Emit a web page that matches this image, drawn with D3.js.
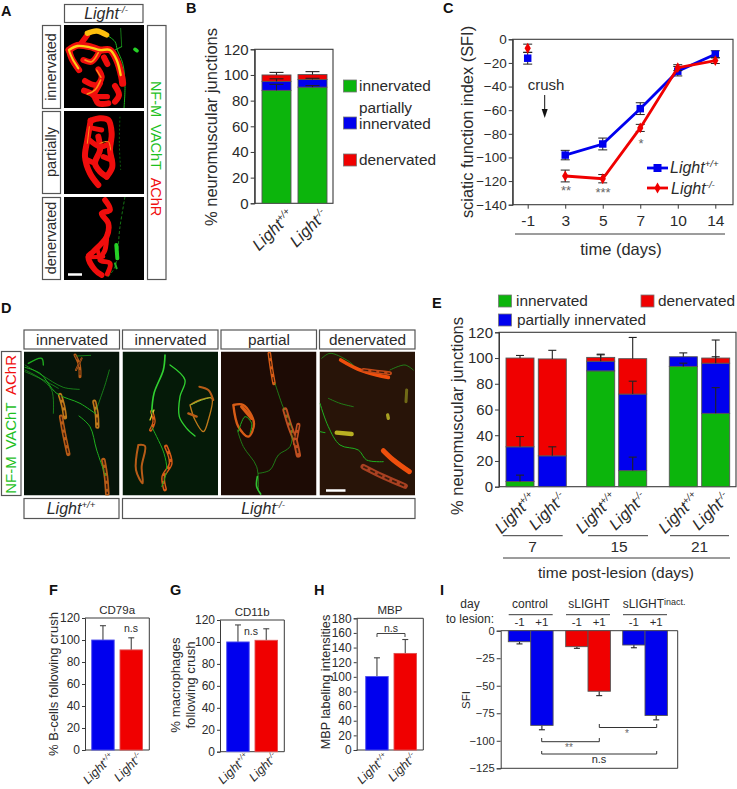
<!DOCTYPE html>
<html><head><meta charset="utf-8">
<script src="https://cdn.jsdelivr.net/npm/d3@7"></script>
<style>html,body{margin:0;padding:0;background:#fff}svg{display:block;font-family:"Liberation Sans",Arial,sans-serif}</style>
</head><body><div id="c"></div>
<script>
// ---------- data ----------
const genotypes = ["+/+","-/-"];
const bInnervated = [88,90.5];
const bPartial = [7,6];
const bDenervated = [5,3.8];
const bErrInnervated = [92.7,91.7];
const bErrPartial = [97,97.4];
const bErrDenervated = [102,102.6];

const days = ["-1","3","5","7","10","14"];
const sfiWild = [-16,-98,-88.6,-58.7,-27,-12.7];
const sfiWildErr = [5,4,5,5,4,3];
const sfiKnock = [-7.6,-115.7,-118,-75,-24,-18];
const sfiKnockErr = [3.5,5,3.5,3,2.5,2.5];

const eGroups = ["7","15","21"];
const eBars = ["+/+","-/-","+/+","-/-","+/+","-/-"];
const eInnervated = [4,0,90,12.5,93.5,57];
const ePartial = [27,24,7.5,59.5,7.5,39];
const eDenervated = [69,75.3,3,27.5,0,4];
const eErrInnervated = [9,null,null,23,96,77];
const eErrPartial = [39,31,102.5,82,104,101];
const eErrDenervated = [102,106,103,116,null,114];

const fValues = [100,91]; const fErr = [113,102];
const gValues = [100,101.5]; const gErr = [115.5,112];
const hValues = [100.5,132]; const hErr = [126,151];
const fTicks = [0,20,40,60,80,100,120];
const hTicks = [0,20,40,60,80,100,120,140,160,180];

const iTreatments = ["control","sLIGHT","sLIGHT"];
const iDays = ["-1","+1","-1","+1","-1","+1"];
const iValues = [-10,-86,-14.5,-55,-13,-77];
const iErr = [-12,-90,-16,-59,-15.5,-81];
const iTicks = [0,-25,-50,-75,-100,-125];

// micrograph sketches (traced in 3x crop coordinates)
const R="#f01008", Y="#ffd018", O="#ff9018", G="#1fb01f";
const aTraces = [
 {c:G,w:3,p:[[320,105],[345,125],[352,150],[368,190],[375,250],[372,325]]},
 {c:G,w:3,p:[[345,150],[365,140]]},
 {c:G,w:2,p:[[362,85],[365,140]]},
 {c:"#25d025",w:11,p:[[405,148],[411,152]]},
 {c:R,w:21,p:[[207,150],[232,136],[270,140],[300,150],[330,150],[350,180],[365,230],[368,250]]},
 {c:R,w:19,p:[[207,150],[215,175],[237,210]]},
 {c:R,w:17,p:[[240,135],[262,105]]},
 {c:R,w:18,p:[[250,180],[275,185],[298,155]]},
 {c:R,w:18,p:[[312,172],[322,192]]},
 {c:R,w:18,p:[[295,208],[305,232],[290,255],[255,243]]},
 {c:R,w:18,p:[[252,272],[280,285],[295,310],[325,310]]},
 {c:R,w:18,p:[[280,285],[300,250]]},
 {c:R,w:18,p:[[345,258],[357,285],[345,305]]},
 {c:R,w:16,p:[[290,290],[322,290]]},
 {c:"#ffc010",w:16,p:[[262,100],[290,93],[320,105]]},
 {c:Y,w:7,p:[[207,150],[232,138],[270,142],[300,150],[330,150],[350,180],[362,225]]},
 {c:Y,w:6,p:[[208,155],[218,178],[235,205]]},
 {c:O,w:5,p:[[255,180],[275,185],[295,158]]},
 {c:O,w:5,p:[[262,282],[285,270],[302,240]]},
 {c:O,w:4,p:[[290,210],[303,232]]},
 {c:"#158a15",w:2,p:[[360,350],[358,430],[362,510]],d:"2 2"},
 {c:R,w:18,p:[[272,362],[300,355],[325,360],[335,400],[330,450],[337,500],[320,530]]},
 {c:R,w:18,p:[[272,362],[262,420],[255,470],[270,520],[295,555]]},
 {c:R,w:18,p:[[295,410],[300,450],[285,490],[300,515],[320,530]]},
 {c:R,w:16,p:[[268,420],[300,440],[330,430]]},
 {c:R,w:16,p:[[285,490],[262,480]]},
 {c:R,w:16,p:[[310,470],[335,480]]},
 {c:R,w:15,p:[[280,385],[305,390]]},
 {c:O,w:3,p:[[300,430],[325,425],[332,450]]},
 {c:O,w:3,p:[[268,380],[262,430]]},
 {c:R,w:17,p:[[315,600],[330,630],[305,640],[325,670],[320,710],[280,755],[265,770],[285,810],[305,825]]},
 {c:R,w:15,p:[[320,710],[315,750],[300,780],[330,790],[322,822]]},
 {c:R,w:12,p:[[270,772],[310,770]]},
 {c:R,w:12,p:[[292,745],[300,780]]},
 {c:G,w:2,p:[[375,590],[360,680],[345,800],[320,835]],d:"3 2"},
 {c:"#25d025",w:12,p:[[349,735],[352,775]]},
 {c:"#25b025",w:6,p:[[345,790],[350,805]]}
];
const NM1="#b85c18", NM2="#c07a1a", NM3="#d85c16", NM4="#ee5010";
const dTraces1 = [
 {c:NM1,w:9,p:[[225,195],[238,225],[240,260]],s:1},
 {c:NM1,w:6,p:[[245,205],[228,240]],s:1},
 {c:NM2,w:13,p:[[180,315],[190,350],[195,382]],s:1},
 {c:NM1,w:13,p:[[183,380],[192,430],[205,492]],s:1},
 {c:NM2,w:13,p:[[283,335],[290,370],[292,410]],s:1},
 {c:NM1,w:14,p:[[310,510],[318,560],[322,612]],s:1},
 {c:G,w:3,p:[[75,232],[120,250],[170,310],[240,340],[285,370]]},
 {c:G,w:2,p:[[75,240],[120,265],[155,300],[160,370]]},
 {c:G,w:2,p:[[75,225],[125,255],[190,292],[238,298]]},
 {c:G,w:2,p:[[75,245],[130,270],[175,295]]},
 {c:G,w:4,p:[[85,220],[125,205],[130,225]]},
 {c:G,w:2,p:[[285,370],[315,285],[328,240]]},
 {c:G,w:3,p:[[237,378],[270,410],[290,480],[318,560]]},
 {c:G,w:2,p:[[230,198],[272,196]]}
];
const dTraces2 = [
 {c:NM3,w:10,p:[[455,365],[462,395],[452,420]],s:1},
 {c:NM1,w:6,p:[[415,465],[435,468],[425,530],[428,580],[408,540],[415,465]]},
 {c:NM3,w:12,p:[[498,470],[512,520],[490,560],[495,598]],s:1},
 {c:NM2,w:4,p:[[570,345],[600,330],[635,325],[625,390],[610,425],[585,390],[570,345]]},
 {c:NM1,w:6,p:[[598,290],[625,300],[640,330]]},
 {c:NM1,w:7,p:[[565,370],[590,380]]},
 {c:"#30d030",w:5,p:[[495,195],[490,240],[462,310],[455,370]]},
 {c:"#30d030",w:4,p:[[510,225],[555,270],[540,320],[538,380],[560,415],[585,438]]},
 {c:G,w:3,p:[[455,410],[470,440],[492,490],[500,540],[485,590]]},
 {c:"#d8d030",w:4,p:[[450,390],[462,360]]},
 {c:"#98c030",w:3,p:[[572,345],[600,332],[632,322]]}
];
const dTraces3 = [
 {c:NM3,w:11,p:[[808,190],[815,240],[822,280]],s:1},
 {c:NM3,w:7,p:[[700,345],[730,345],[762,400],[745,440],[715,410],[700,345]]},
 {c:NM3,w:10,p:[[725,350],[755,385]]},
 {c:"#c05020",w:16,p:[[855,360],[870,410],[885,450],[895,495]],s:1},
 {c:"#c05020",w:13,p:[[895,405],[885,460]],s:1},
 {c:G,w:2,p:[[825,280],[845,340],[875,420],[870,470],[835,495],[810,540],[775,550]]},
 {c:G,w:2,p:[[712,420],[730,470],[770,530],[775,600]]},
 {c:"#30c030",w:5,p:[[772,560],[770,590],[782,612]]},
 {c:G,w:3,p:[[715,425],[735,380],[755,400],[750,430]]}
];
const dTraces4 = [
 {c:NM4,w:11,p:[[1022,210],[1075,238],[1130,255],[1165,262]]},
 {c:"#c04818",w:12,p:[[1090,240],[1130,245],[1170,250]],s:1},
 {c:NM4,w:15,p:[[1150,482],[1180,510],[1228,545]]},
 {c:"#a84020",w:17,p:[[1090,530],[1150,560],[1215,588]],s:1},
 {c:"#b8b020",w:13,p:[[1010,428],[1055,432]]},
 {c:"#a8a020",w:10,p:[[1163,375],[1165,385]]},
 {c:"#706a18",w:9,p:[[1220,300],[1218,335]]},
 {c:G,w:2,p:[[965,205],[990,190],[1040,210],[1060,225]]},
 {c:G,w:2,p:[[1170,240],[1215,225],[1240,240]]},
 {c:G,w:3,p:[[960,340],[985,410],[1020,465],[1075,480],[1100,510],[1150,515]]},
 {c:G,w:2,p:[[985,325],[1020,340],[1060,350]]},
 {c:G,w:3,p:[[960,425],[975,428]]}
];

// ---------- drawing helpers ----------
const GREEN="#0cb50c", BLUE="#0000ee", RED="#f00000", INK="#3a3a3a", TXT="#2b2b2b", FRAME="#555";
const svg = d3.select("#c").append("svg").attr("width",737).attr("height",789);
const defs = svg.append("defs");
defs.append("filter").attr("id","soft").append("feGaussianBlur").attr("stdDeviation",0.5);
function text(x,y,s,size,opt={}){
  const t = svg.append("text").attr("x",x).attr("y",y).text(s).attr("font-size",size)
    .attr("fill",opt.fill||TXT).attr("text-anchor",opt.anchor||"middle");
  if(opt.bold) t.attr("font-weight","bold");
  if(opt.italic) t.attr("font-style","italic");
  return t;
}
function vtext(x,y,s,size,fill,angle){
  return svg.append("text").attr("transform",`translate(${x},${y}) rotate(${angle||-90})`).text(s)
    .attr("font-size",size).attr("fill",fill||TXT).attr("text-anchor","middle");
}
function light(x,y,sup,size,angle,anchor,ratio){
  const t = svg.append("text").attr("transform",`translate(${x},${y}) rotate(${angle})`)
    .attr("text-anchor",anchor||"end").attr("fill",TXT).attr("font-size",size).attr("font-style","italic");
  t.append("tspan").text("Light");
  t.append("tspan").text(sup).attr("font-size",size*(ratio||0.6)).attr("dy",-size*0.36);
  return t;
}
function box(x,y,w,h){
  svg.append("rect").attr("x",x).attr("y",y).attr("width",w).attr("height",h)
    .attr("fill","#fff").attr("stroke",FRAME).attr("stroke-width",1.2);
}
function rule(x1,x2,y,c){
  svg.append("line").attr("x1",x1).attr("x2",x2).attr("y1",y).attr("y2",y).attr("stroke",c||INK).attr("stroke-width",1);
}
function frame(x0,x1,y0,y1){
  svg.append("rect").attr("x",x0).attr("y",y0).attr("width",x1-x0).attr("height",y1-y0)
    .attr("fill","none").attr("stroke",INK).attr("stroke-width",1.1);
}
function yAxis(x,scale,ticks,size,fs){
  const g = svg.append("g").attr("transform",`translate(${x},0)`)
    .call(d3.axisLeft(scale).tickValues(ticks).tickSize(size).tickPadding(2).tickFormat(d3.format("d")));
  g.select(".domain").attr("stroke",INK);
  g.selectAll("line").attr("stroke",INK);
  g.selectAll("text").attr("font-size",fs).attr("fill",TXT).attr("font-family","'Liberation Sans',Arial,sans-serif");
  return g;
}
function errBar(x,yA,yB,cap,w){
  const g = svg.append("g").attr("stroke",w||"#222").attr("stroke-width",1.1);
  g.append("line").attr("x1",x).attr("x2",x).attr("y1",yA).attr("y2",yB);
  g.append("line").attr("x1",x-cap).attr("x2",x+cap).attr("y1",yB).attr("y2",yB);
}
function bar(x,w,yA,yB,fill,stroke){
  svg.append("rect").attr("x",x).attr("width",w).attr("y",Math.min(yA,yB)).attr("height",Math.abs(yB-yA))
    .attr("fill",fill).attr("stroke",stroke||"#555").attr("stroke-width",0.9);
}
function square(x,y,fill){
  svg.append("rect").attr("x",x).attr("y",y).attr("width",13).attr("height",12).attr("fill",fill).attr("stroke","#777").attr("stroke-width",0.8);
}
const zLine = d3.line().curve(d3.curveCatmullRom.alpha(0.5));
let clipN=0;
function micro(x,y,w,h,bg,traces,ox,oy){
  const id="clip"+(clipN++);
  defs.append("clipPath").attr("id",id).append("rect").attr("x",x).attr("y",y).attr("width",w).attr("height",h);
  const g = svg.append("g").attr("clip-path",`url(#${id})`);
  g.append("rect").attr("x",x).attr("y",y).attr("width",w).attr("height",h).attr("fill",bg);
  const soft = g.append("g").attr("filter","url(#soft)");
  const pathOf = d=>zLine(d.p.map(q=>[q[0]/3+ox,q[1]/3+oy]));
  soft.selectAll("path.base").data(traces).join("path").attr("class","base")
    .attr("d",pathOf)
    .attr("fill","none").attr("stroke",d=>d.c).attr("stroke-width",d=>d.w/3)
    .attr("stroke-dasharray",d=>d.d||null)
    .attr("stroke-linecap",d=>d.d?"butt":"round").attr("stroke-linejoin","round");
  soft.selectAll("path.speck").data(traces.filter(d=>d.s)).join("path").attr("class","speck")
    .attr("d",pathOf)
    .attr("fill","none").attr("stroke","#3a1a08").attr("stroke-width",d=>d.w/10).attr("stroke-dasharray","5 3");
}
function scaleBar(x1,x2,y){
  svg.append("line").attr("x1",x1).attr("x2",x2).attr("y1",y).attr("y2",y).attr("stroke","#fff").attr("stroke-width",2.5);
}

// ---------- panel letters ----------
[["A",1,16],["B",186,13],["C",443,13],["D",1,313],["E",432,308],["F",49,595],["G",170,595],["H",314,595],["I",440,595]]
 .forEach(d=>text(d[1],d[2],d[0],14.5,{anchor:"start",bold:true,fill:"#111"}));

// ---------- A ----------
box(64.5,4.5,78.5,18);
light(106,19,"-/-",16,0,"middle");
micro(64,25,80,83,"#000",aTraces,0,0);
micro(64,111,80,83,"#000",aTraces,0,0);
micro(64,197,80,83,"#000",aTraces,0,0);
box(42.5,25.5,18,83); box(42.5,111.5,18,82); box(42.5,197.5,18,82);
[["innervated",67],["partially",152],["denervated",238]].forEach(d=>vtext(56,d[1],d[0],14.5));
box(147.5,25.5,18.5,254);
vtext(151,99,"NF-M",14.5,"#1fbf1f",90);
vtext(151,147,"VAChT",14.5,"#1fbf1f",90);
vtext(151,197,"AChR",14.5,"#f01010",90);
scaleBar(68,82,274.5);

// ---------- B ----------
{
  const y=d3.scaleLinear().domain([0,120]).range([203.3,49.3]);
  const xs=[262,298], w=29;
  frame(254.7,333,49.3,203.3);
  yAxis(254.7,y,[0,20,40,60,80,100,120],4,15);
  genotypes.forEach((g,i)=>{
    const a=bInnervated[i], b=a+bPartial[i], c=b+bDenervated[i], m=xs[i]+w/2;
    bar(xs[i],w,y(0),y(a),GREEN);
    bar(xs[i],w,y(a),y(b),BLUE);
    bar(xs[i],w,y(b),y(c),RED);
    errBar(m,y(a),y(bErrInnervated[i]),7);
    errBar(m,y(b),y(bErrPartial[i]),7);
    errBar(m,y(c),y(bErrDenervated[i]),7);
    light(m+(i?16:18),216,g,16.5,-45);
  });
  vtext(217,127,"% neuromuscular junctions",16.5);
  square(343.5,80,GREEN); text(359,91,"innervated",15.4,{anchor:"start"});
  square(343.5,117,BLUE); text(359,113,"partially",15.4,{anchor:"start"}); text(359,129,"innervated",15.4,{anchor:"start"});
  square(343.5,154,RED); text(359,165,"denervated",15.4,{anchor:"start"});
}

// ---------- C ----------
{
  const y=d3.scaleLinear().domain([-140,0]).range([204.7,39.3]);
  const x=d3.scalePoint().domain(days).range([527.7,715.3]);
  frame(512.7,733,39.3,204.7);
  yAxis(512.7,y,d3.range(-140,1,20),4,13.5);
  const ax=svg.append("g").attr("transform","translate(0,204.7)")
    .call(d3.axisBottom(x).tickSize(4).tickPadding(6));
  ax.select(".domain").remove(); ax.selectAll("line").attr("stroke",INK);
  ax.selectAll("text").attr("font-size",15.5).attr("fill",TXT).attr("font-family","'Liberation Sans',Arial,sans-serif");
  const line=d3.line().x(d=>x(d.d)).y(d=>y(d.v));
  const draw=(vals,errs,col,marker)=>{
    const pts=days.map((d,i)=>({d,v:vals[i],e:errs[i]}));
    pts.forEach(p=>{
      const g=svg.append("g").attr("stroke","#222").attr("stroke-width",1);
      g.append("line").attr("x1",x(p.d)).attr("x2",x(p.d)).attr("y1",y(p.v-p.e)).attr("y2",y(p.v+p.e));
      [p.v-p.e,p.v+p.e].forEach(q=>g.append("line").attr("x1",x(p.d)-4.5).attr("x2",x(p.d)+4.5).attr("y1",y(q)).attr("y2",y(q)));
    });
    svg.append("path").attr("d",line(pts.slice(1))).attr("fill","none").attr("stroke",col).attr("stroke-width",2.8);
    svg.selectAll(null).data(pts).join("path")
      .attr("transform",p=>`translate(${x(p.d)},${y(p.v)})`)
      .attr("d",d3.symbol().type(marker==="s"?d3.symbolSquare:d3.symbolDiamond).size(marker==="s"?56:34)())
      .attr("fill",col);
  };
  draw(sfiWild,sfiWildErr,BLUE,"s");
  draw(sfiKnock,sfiKnockErr,RED,"d");
  text(546,90,"crush",15);
  svg.append("line").attr("x1",544.7).attr("x2",544.7).attr("y1",95).attr("y2",112).attr("stroke","#111").attr("stroke-width",1);
  svg.append("path").attr("d","M541.7,109L547.7,109L544.7,118Z").attr("fill","#111");
  text(566,195,"**",13,{fill:"#666"});
  text(603,197,"***",13,{fill:"#666"});
  text(641,148,"*",13,{fill:"#666"});
  svg.append("line").attr("x1",647).attr("x2",668).attr("y1",168).attr("y2",168).attr("stroke",BLUE).attr("stroke-width",2.8);
  svg.append("rect").attr("x",653.5).attr("y",164).attr("width",8).attr("height",8).attr("fill",BLUE);
  svg.append("line").attr("x1",647).attr("x2",668).attr("y1",188).attr("y2",188).attr("stroke",RED).attr("stroke-width",2.8);
  svg.append("path").attr("transform","translate(657.5,188)").attr("d",d3.symbol().type(d3.symbolDiamond).size(34)()).attr("fill",RED);
  light(670,173,"+/+",16,0,"start");
  light(671,194,"-/-",16,0,"start");
  vtext(473,122,"sciatic function index (SFI)",16.4);
  rule(515,725,234);
  text(621,255,"time (days)",16.5);
}

// ---------- D ----------
{
  const oy=290;
  [[24,"innervated"],[122.5,"innervated"],[221,"partial"],[319.5,"denervated"]].forEach(d=>{
    box(d[0],330,95.5,19);
    text(d[0]+48,345,d[1],15.4);
  });
  micro(24,351.5,95.5,144,"#06140a",dTraces1,0,oy);
  micro(122.5,351.5,95.5,144,"#051a08",dTraces2,0,oy);
  micro(221,351.5,95.5,144,"#1d0b05",dTraces3,0,oy);
  micro(319.5,351.5,95.5,144,"#281408",dTraces4,0,oy);
  box(1.5,351.5,19.5,144);
  vtext(16,475,"NF-M",15,"#1fbf1f");
  vtext(16,426,"VAChT",15,"#1fbf1f");
  vtext(16,375,"AChR",15,"#f01010");
  scaleBar(326,345.5,490.5);
  box(24,498.5,95,20); box(122.5,498.5,292.5,20);
  light(71,514,"+/+",16,0,"middle");
  light(263,514,"-/-",16,0,"middle");
}

// ---------- E ----------
{
  const y=d3.scaleLinear().domain([0,120]).range([486.7,332.3]);
  const xs=[506,538.3,586.7,618.7,669.3,701.7], w=28;
  frame(499,736,332.3,486.7);
  yAxis(499,y,[0,20,40,60,80,100,120],4,15);
  eBars.forEach((g,i)=>{
    const a=eInnervated[i], b=a+ePartial[i], c=b+eDenervated[i], m=xs[i]+w/2;
    if(a>0) bar(xs[i],w,y(0),y(a),GREEN);
    bar(xs[i],w,y(a),y(b),BLUE);
    if(eDenervated[i]>0) bar(xs[i],w,y(b),y(c),RED);
    if(eErrInnervated[i]!==null) errBar(m,y(a),y(eErrInnervated[i]),4);
    errBar(m,y(b),y(eErrPartial[i]),4);
    if(eErrDenervated[i]!==null) errBar(m,y(c),y(eErrDenervated[i]),4);
    light(m+(i%2?15:17),499,g,16.5,-45);
  });
  square(498.5,295,GREEN); text(516,306,"innervated",15.4,{anchor:"start"});
  square(498.5,314,BLUE); text(517,325,"partially innervated",15.4,{anchor:"start"});
  square(641,295,RED); text(658,306,"denervated",15.4,{anchor:"start"});
  vtext(463,416,"% neuromuscular junctions",16.5);
  rule(502.7,562.7,535.7); rule(588,648,535.7); rule(670,729,535.7);
  [[532.5,0],[619,1],[699.5,2]].forEach(d=>text(d[0],552,eGroups[d[1]],15.5));
  rule(503,730,558);
  text(616,578,"time post-lesion (days)",15.5);
}

// ---------- F G H ----------
function simple(x0,x1,yBottom,yTop,max,ticks,vals,errs,bx,title,fs){
  const y=d3.scaleLinear().domain([0,max]).range([yBottom,yTop]);
  const w=22.5;
  svg.append("path").attr("d",`M${x0},${yTop}H${x1}V${yBottom}H${x0}`).attr("fill","none").attr("stroke",INK).attr("stroke-width",1);
  yAxis(x0,y,ticks,3,fs);
  vals.forEach((v,i)=>{
    errBar(bx[i]+w/2,y(v),y(errs[i]),3,"#444");
    bar(bx[i],w,y(0),y(v),i?RED:BLUE,i?"#e05050":"#5050ee");
    light(bx[i]+w/2+12,758,genotypes[i],12.5,-45);
  });
  text((x0+x1)/2,yTop-4,title,11.5);
}
simple(85,149.3,750,618,120,fTicks,fValues,fErr,[91.7,120],"CD79a",12);
text(131,632,"n.s",10.5);
vtext(58,684,"% B-cells following crush",13);
simple(220,284.3,751.7,620,120,fTicks,gValues,gErr,[226.7,255],"CD11b",12);
text(251,635,"n.s",10.5);
vtext(180,685,"% macrophages",13.2);
vtext(195,685,"following crush",13.2);
simple(356.7,423.3,750,618.3,180,hTicks,hValues,hErr,[365.7,394],"MBP",12);
text(391,632,"n.s",10.5);
svg.append("path").attr("d","M377,637V633.5H405V637").attr("fill","none").attr("stroke","#444").attr("stroke-width",1);
vtext(330,682,"MBP labeling intensities",12.7);

// ---------- I ----------
{
  const y=d3.scaleLinear().domain([-125,0]).range([768.3,630.7]);
  const xs=[508.3,530.7,565.7,588,622.7,645], w=22.4;
  svg.append("path").attr("d","M500.7,630.7H677.7V768.3H500.7").attr("fill","none").attr("stroke",INK).attr("stroke-width",1);
  yAxis(500.7,y,iTicks,4,11.2);
  iValues.forEach((v,i)=>{
    const m=xs[i]+w/2;
    errBar(m,y(v),y(iErr[i]),3,"#222");
    bar(xs[i],w,y(0),y(v),(i===2||i===3)?RED:BLUE,"#555");
    text(m,626,iDays[i],11.5);
  });
  text(470,608,"day",12); text(470,623,"to lesion:",12);
  text(530,608,iTreatments[0],12); text(589,608,iTreatments[1],12);
  const t=text(622.7,608,iTreatments[2],12,{anchor:"start"});
  t.append("tspan").text("inact.").attr("font-size",9).attr("dy",-3.5);
  rule(508.7,552.7,614.7); rule(566,610,614.7); rule(623,667,614.7);
  const br=(a,b,t1,t2)=>svg.append("path").attr("d",`M${a},${t1}V${t2}H${b}V${t1}`).attr("fill","none").attr("stroke","#333").attr("stroke-width",1);
  br(541.7,599.3,738,741.7); br(599.3,656.7,724,727.5); br(541.7,656.7,751,754);
  text(569,751,"**",10,{fill:"#666"});
  text(627,737,"*",10,{fill:"#666"});
  text(599,763,"n.s",11);
  vtext(470,700,"SFI",11.5);
}
</script></body></html>
